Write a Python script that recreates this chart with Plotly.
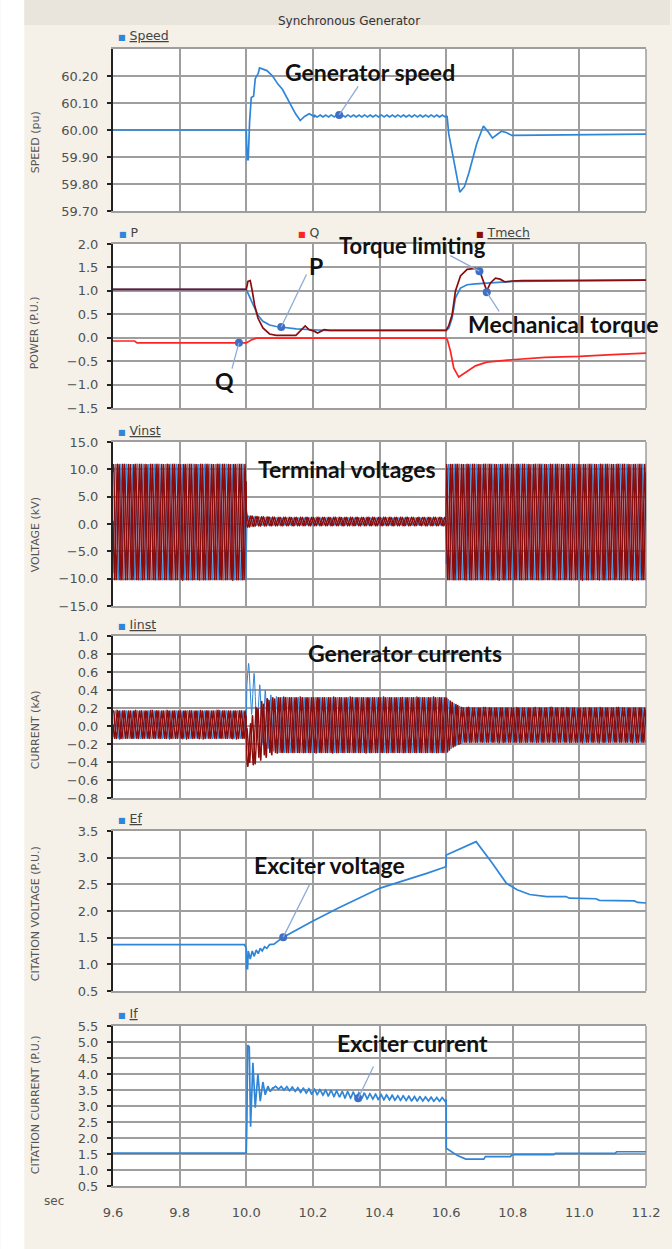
import numpy as np
import plotly.graph_objects as go

# ---------------- data ----------------
X_TICKS = [9.6, 9.8, 10.0, 10.2, 10.4, 10.6, 10.8, 11.0, 11.2]

# Speed (Hz) knots
SPEED_A_T = [9.6, 10.0, 10.001, 10.003, 10.006, 10.010, 10.015, 10.022, 10.027, 10.031, 10.036, 10.040, 10.050,
             10.062, 10.079, 10.095, 10.109, 10.122, 10.134, 10.148, 10.162, 10.175, 10.189, 10.204]
SPEED_A_V = [60.0, 60.0, 59.96, 59.89, 59.89, 60.03, 60.12, 60.125, 60.19, 60.20, 60.21, 60.23, 60.225,
             60.22, 60.20, 60.17, 60.15, 60.12, 60.09, 60.06, 60.035, 60.05, 60.06, 60.05]
SPEED_RIP_T = [10.204, 10.4, 10.6]
SPEED_RIP_MEAN = [60.052, 60.052, 60.052]
SPEED_RIP_AMP = [0.004, 0.004, 0.004]
SPEED_B_T = [10.6, 10.603, 10.608, 10.618, 10.628, 10.641, 10.655, 10.668, 10.692, 10.712, 10.725, 10.739,
             10.755, 10.767, 10.782, 10.797, 11.2]
SPEED_B_V = [60.052, 60.05, 59.985, 59.92, 59.85, 59.77, 59.79, 59.84, 59.95, 60.015, 59.995, 59.97,
             59.985, 59.996, 59.99, 59.98, 59.985]

# Power panel
P_T = [9.6, 10.0, 10.005, 10.02, 10.035, 10.05, 10.07, 10.09, 10.12, 10.15, 10.2, 10.24, 10.6, 10.608,
       10.618, 10.628, 10.643, 10.663, 10.688, 10.72, 10.76, 10.8, 11.2]
P_V = [1.03, 1.03, 0.95, 0.72, 0.48, 0.35, 0.27, 0.24, 0.21, 0.19, 0.17, 0.155, 0.155, 0.2,
       0.42, 0.85, 1.06, 1.13, 1.15, 1.16, 1.18, 1.2, 1.23]
Q_T = [9.6, 9.665, 9.672, 9.99, 10.0, 10.015, 10.03, 10.6, 10.604, 10.613, 10.623, 10.638, 10.658, 10.688,
       10.722, 10.797, 10.897, 11.0, 11.1, 11.2]
Q_V = [-0.07, -0.07, -0.11, -0.12, -0.11, -0.05, -0.01, -0.01, -0.05, -0.29, -0.65, -0.84, -0.75, -0.60,
       -0.52, -0.47, -0.42, -0.40, -0.36, -0.33]
TM_T = [9.6, 10.0, 10.005, 10.012, 10.018, 10.025, 10.035, 10.05, 10.07, 10.09, 10.149, 10.164, 10.177,
        10.189, 10.204, 10.214, 10.234, 10.25, 10.6, 10.608, 10.618, 10.628, 10.643, 10.663, 10.688, 10.703,
        10.722, 10.733, 10.748, 10.762, 10.777, 10.797, 10.827, 11.2]
TM_V = [1.03, 1.03, 1.2, 1.22, 1.0, 0.70, 0.42, 0.21, 0.08, 0.05, 0.05, 0.17, 0.25,
        0.17, 0.14, 0.10, 0.17, 0.155, 0.155, 0.26, 0.49, 1.0, 1.32, 1.46, 1.48, 1.38,
        1.0, 1.17, 1.27, 1.25, 1.19, 1.21, 1.22, 1.23]

# Instantaneous 60 Hz waveforms: envelopes
F_NET = 60.0
V_ENV_T = [9.6, 9.9995, 10.0005, 10.03, 10.1, 10.5995, 10.6005, 11.2]
V_AMP = [10.65, 10.65, 1.1, 0.85, 0.75, 0.75, 10.65, 10.65]
V_OFF = [0.35, 0.35, 0.5, 0.5, 0.45, 0.45, 0.35, 0.35]
I_ENV_T = [9.6, 10.0, 10.02, 10.05, 10.6, 10.62, 10.65, 11.2]
I_AMP = [0.157, 0.157, 0.29, 0.31, 0.31, 0.25, 0.195, 0.195]
I_OFF = [0.015, 0.015, 0.01, 0.01, 0.01, 0.01, 0.01, 0.01]
I_DC_T = [9.9995, 10.0, 10.007, 10.025, 10.04, 10.057, 10.07, 10.1]
I_DC = [[0.0, 0.5, 0.48, 0.265, 0.146, 0.08, 0.03, 0.0],
        [0.0, -0.3, -0.27, -0.12, -0.05, -0.02, 0.0, 0.0],
        [0.0, -0.2, -0.21, -0.145, -0.096, -0.06, -0.03, 0.0]]
PHASE_DEG = [0, -120, 120]
T_PEAK_A = 10.007

# Exciter voltage
EF_T = [9.6, 9.995, 10.0, 10.001, 10.004, 10.006, 10.012, 10.018, 10.024, 10.03, 10.036, 10.042, 10.048,
        10.055, 10.062, 10.07, 10.083, 10.111, 10.196, 10.275, 10.402, 10.48, 10.544, 10.5995, 10.6005,
        10.69, 10.736, 10.781, 10.813, 10.851, 10.902, 10.96, 10.97, 11.05, 11.06, 11.165, 11.175, 11.2]
EF_V = [1.37, 1.37, 1.30, 0.92, 0.92, 1.25, 1.10, 1.25, 1.15, 1.27, 1.20, 1.30, 1.25,
        1.33, 1.30, 1.37, 1.38, 1.51, 1.80, 2.05, 2.43, 2.58, 2.71, 2.83, 3.05,
        3.30, 2.92, 2.52, 2.40, 2.31, 2.27, 2.27, 2.24, 2.23, 2.20, 2.19, 2.16, 2.15]

# Exciter current
IF_A_T = [9.6, 10.0, 10.002, 10.004, 10.009, 10.013, 10.02, 10.027, 10.035, 10.042, 10.05, 10.057, 10.065,
          10.072, 10.08]
IF_A_V = [1.53, 1.53, 2.6, 4.9, 4.85, 2.35, 4.35, 2.95, 4.0, 3.15, 3.75, 3.35, 3.62, 3.45, 3.58]
IF_RIP_T = [10.08, 10.12, 10.2, 10.3, 10.4, 10.5, 10.6]
IF_RIP_MEAN = [3.58, 3.55, 3.45, 3.35, 3.28, 3.23, 3.2]
IF_RIP_AMP = [0.04, 0.06, 0.08, 0.1, 0.08, 0.07, 0.06]
IF_B_T = [10.6, 10.6005, 10.612, 10.634, 10.659, 10.713, 10.718, 10.793, 10.798, 10.923, 10.928, 11.107,
          11.112, 11.2]
IF_B_V = [3.2, 1.68, 1.6, 1.45, 1.34, 1.34, 1.42, 1.42, 1.48, 1.48, 1.52, 1.52, 1.57, 1.57]

# Callouts: (panel, label, label_t, label_v, dot_t, dot_v, line_t, line_v, font size)
CALLOUTS = [
    (1, "Generator speed", 10.370, 60.215, 10.279, 60.056, 10.339, 60.167, 23),
    (2, "Torque limiting", 10.500, 1.96, 10.700, 1.42, 10.608, 1.77, 22),
    (2, "Mechanical torque", 10.952, 0.293, 10.722, 0.97, 10.762, 0.53, 23),
    (2, "P", 10.209, 1.53, 10.105, 0.23, 10.183, 1.38, 23),
    (2, "Q", 9.935, -0.92, 9.978, -0.11, 9.956, -0.69, 23),
    (5, "Exciter voltage", 10.249, 2.86, 10.111, 1.51, 10.192, 2.52, 23),
    (6, "Exciter current", 10.500, 4.97, 10.336, 3.24, 10.384, 4.28, 23),
]
TEXT_ONLY = [(3, "Terminal voltages", 10.303, 10.06), (4, "Generator currents", 10.476, 0.81)]

Y_RANGES = [(59.7, 60.3), (-1.5, 2.0), (-15, 15), (-0.8, 1.0), (0.5, 3.5), (0.5, 5.5)]
Y_TICKS = [[59.7, 59.8, 59.9, 60.0, 60.1, 60.2],
           [-1.5, -1.0, -0.5, 0.0, 0.5, 1.0, 1.5, 2.0],
           [-15, -10, -5, 0, 5, 10, 15],
           [-0.8, -0.6, -0.4, -0.2, 0.0, 0.2, 0.4, 0.6, 0.8, 1.0],
           [0.5, 1.0, 1.5, 2.0, 2.5, 3.0, 3.5],
           [0.5, 1.0, 1.5, 2.0, 2.5, 3.0, 3.5, 4.0, 4.5, 5.0, 5.5]]
Y_FMT = [".2f", ".1f", ".1f", ".1f", ".1f", ".1f"]
Y_TITLES = ["SPEED (pu)", "POWER (P.U.)", "VOLTAGE (kV)", "CURRENT (kA)",
            "CITATION VOLTAGE (P.U.)", "CITATION CURRENT (P.U.)"]

# ---------------- geometry / style ----------------
W, H = 672, 1249
ML, MR, MT, MB = 113, 24, 49, 63
PW, PH = W - ML - MR, H - MT - MB
PANEL_PX = [(49, 211), (244, 408), (442, 606), (636, 798), (831, 991), (1026, 1186)]
YTITLE_PX = [142, 333, 535, 730, 914, 1105]
LEGEND_PX = [[("Speed", 116, 36, True)],
             [("P", 117, 233, False), ("Q", 297, 233, False), ("Tmech", 475, 233, True)],
             [("Vinst", 116, 431, True)], [("Iinst", 116, 624, True)],
             [("Ef", 116, 818, True)], [("If", 116, 1013, True)]]
BLUE = "#2f86d8"
RED = "#ff2424"
DRED = "#8b0c0c"
LEG_COL = {"Speed": BLUE, "P": BLUE, "Q": RED, "Tmech": DRED, "Vinst": BLUE, "Iinst": BLUE,
           "Ef": BLUE, "If": BLUE}
GRID = "#9e9e9e"
BEIGE = "#f5f0e8"


def px_x(p):
    return (p - ML) / PW


def px_y(p):
    return (H - MB - p) / PH


def with_ripple(a_t, a_v, r_t, r_mean, r_amp, b_t, b_v, step=0.001):
    t = np.arange(r_t[0], r_t[-1], step)
    r = np.interp(t, r_t, r_mean) + np.interp(t, r_t, r_amp) * np.sin(2 * np.pi * F_NET * t)
    return (np.concatenate([a_t, t, b_t]), np.concatenate([a_v, r, b_v]))


fig = go.Figure()

# Panel 1: speed
st, sv = with_ripple(SPEED_A_T, SPEED_A_V, SPEED_RIP_T, SPEED_RIP_MEAN, SPEED_RIP_AMP, SPEED_B_T, SPEED_B_V)
fig.add_trace(go.Scatter(x=st, y=sv, mode="lines", line=dict(color=BLUE, width=1.7), xaxis="x", yaxis="y"))

# Panel 2: power
fig.add_trace(go.Scatter(x=Q_T, y=Q_V, mode="lines", line=dict(color=RED, width=1.7), xaxis="x2", yaxis="y2"))
fig.add_trace(go.Scatter(x=P_T, y=P_V, mode="lines", line=dict(color=BLUE, width=1.7), xaxis="x2", yaxis="y2"))
fig.add_trace(go.Scatter(x=TM_T, y=TM_V, mode="lines", line=dict(color=DRED, width=1.7), xaxis="x2", yaxis="y2"))

# Panels 3,4: instantaneous three-phase waveforms
tw = np.arange(9.6, 11.2 + 1e-9, 0.0004)
wave_cols = [BLUE, DRED, DRED]
wave_w = [1.0, 1.4, 1.4]
for k in range(3):
    ang = 2 * np.pi * F_NET * (tw - T_PEAK_A) + np.radians(PHASE_DEG[k])
    v = np.interp(tw, V_ENV_T, V_OFF) + np.interp(tw, V_ENV_T, V_AMP) * np.cos(ang)
    fig.add_trace(go.Scatter(x=tw, y=v, mode="lines", line=dict(color=wave_cols[k], width=wave_w[k]),
                             xaxis="x3", yaxis="y3"))
for k in range(3):
    ang = 2 * np.pi * F_NET * (tw - T_PEAK_A) + np.radians(PHASE_DEG[k])
    i = (np.interp(tw, I_ENV_T, I_OFF) + np.interp(tw, I_ENV_T, I_AMP) * np.cos(ang)
         + np.interp(tw, I_DC_T, I_DC[k], left=0.0, right=0.0))
    fig.add_trace(go.Scatter(x=tw, y=i, mode="lines", line=dict(color=wave_cols[k], width=wave_w[k]),
                             xaxis="x4", yaxis="y4"))

# Panel 5: exciter voltage
fig.add_trace(go.Scatter(x=EF_T, y=EF_V, mode="lines", line=dict(color=BLUE, width=1.7), xaxis="x5", yaxis="y5"))

# Panel 6: exciter current
ft, fv = with_ripple(IF_A_T, IF_A_V, IF_RIP_T, IF_RIP_MEAN, IF_RIP_AMP, IF_B_T, IF_B_V)
fig.add_trace(go.Scatter(x=ft, y=fv, mode="lines", line=dict(color=BLUE, width=1.7), xaxis="x6", yaxis="y6"))

annotations = []
shapes = []

# Callout dots
for panel in range(1, 7):
    pts = [c for c in CALLOUTS if c[0] == panel]
    if pts:
        sfx = "" if panel == 1 else str(panel)
        fig.add_trace(go.Scatter(x=[c[4] for c in pts], y=[c[5] for c in pts], mode="markers",
                                 marker=dict(color="#3f6fc4", size=8), xaxis="x" + sfx, yaxis="y" + sfx,
                                 cliponaxis=False))


def label_font(size):
    return dict(family="Lato", size=size, color="#111111", weight="bold")


for (panel, label, lt, lv, dt_, dv, ct, cv, fs) in CALLOUTS:
    sfx = "" if panel == 1 else str(panel)
    annotations.append(dict(x=dt_, y=dv, xref="x" + sfx, yref="y" + sfx, ax=ct, ay=cv,
                            axref="x" + sfx, ayref="y" + sfx, text="", showarrow=True, arrowhead=0,
                            arrowwidth=1.3, arrowcolor="#8eaad6", standoff=0))
    annotations.append(dict(x=lt, y=lv, xref="x" + sfx, yref="y" + sfx, text=label, showarrow=False,
                            font=label_font(fs), xanchor="center", yanchor="middle"))
for (panel, label, lt, lv) in TEXT_ONLY:
    sfx = str(panel)
    annotations.append(dict(x=lt, y=lv, xref="x" + sfx, yref="y" + sfx, text=label, showarrow=False,
                            font=label_font(23), xanchor="center", yanchor="middle"))

layout = dict(width=W, height=H, autosize=False, margin=dict(l=ML, r=MR, t=MT, b=MB, pad=0),
              showlegend=False, paper_bgcolor=BEIGE, plot_bgcolor="white",
              font=dict(family="DejaVu Sans", color="#505050"))

for idx in range(6):
    n = idx + 1
    sfx = "" if n == 1 else str(n)
    top, bot = PANEL_PX[idx]
    layout["xaxis" + sfx] = dict(domain=[0, 1], anchor="y" + sfx, range=[9.6, 11.2], tickvals=X_TICKS,
                                 tickformat=".1f", showgrid=True, gridcolor=GRID, gridwidth=1.5,
                                 zeroline=False, showline=True, mirror=True, linecolor=GRID, linewidth=1.5,
                                 ticks="", showticklabels=(n == 6), ticklabelstandoff=14,
                                 tickfont=dict(size=13, color="#505050"))
    layout["yaxis" + sfx] = dict(domain=[px_y(bot), px_y(top)], anchor="x" + sfx, range=list(Y_RANGES[idx]),
                                 tickvals=Y_TICKS[idx], tickformat=Y_FMT[idx], showgrid=True, gridcolor=GRID,
                                 gridwidth=1.5, zeroline=False, showline=True, linecolor="#222222",
                                 linewidth=2, ticks="outside", ticklen=4, tickcolor="#222222", tickwidth=1.5,
                                 ticklabelstandoff=6, tickfont=dict(size=13, color="#505050"))
    # right border of the plot box
    shapes.append(dict(type="line", xref="x%s domain" % sfx, yref="y%s domain" % sfx, x0=1, x1=1, y0=0, y1=1,
                       line=dict(color=GRID, width=1.5), layer="below"))
    annotations.append(dict(x=px_x(35), y=px_y(YTITLE_PX[idx]), xref="paper", yref="paper",
                            text=Y_TITLES[idx], textangle=-90, showarrow=False,
                            font=dict(family="DejaVu Sans", size=11, color="#555555"),
                            xanchor="center", yanchor="middle"))
    for (name, lx, ly, underline) in LEGEND_PX[idx]:
        txt = "<span style='color:%s;font-size:8px'>■</span> %s" % (
            LEG_COL[name], "<u>%s</u>" % name if underline else name)
        annotations.append(dict(x=px_x(lx), y=px_y(ly), xref="paper", yref="paper", text=txt,
                                showarrow=False, xanchor="left", yanchor="middle",
                                font=dict(family="DejaVu Sans", size=12.5, color="#444444")))

# window chrome: white strip at left, title bar
shapes.append(dict(type="rect", xref="paper", yref="paper", x0=px_x(0), x1=px_x(24), y0=px_y(H), y1=px_y(0),
                   fillcolor="white", line=dict(width=0), layer="below"))
shapes.append(dict(type="rect", xref="paper", yref="paper", x0=px_x(24), x1=px_x(W), y0=px_y(25), y1=px_y(0),
                   fillcolor="#e9e4dc", line=dict(width=0), layer="below"))
annotations.append(dict(x=px_x(350), y=px_y(12), xref="paper", yref="paper", text="Synchronous Generator",
                        showarrow=False, font=dict(family="DejaVu Sans", size=12, color="#333333")))
annotations.append(dict(x=px_x(42), y=px_y(1210), xref="paper", yref="paper", text="sec",
                        showarrow=False, font=dict(family="DejaVu Sans", size=12, color="#555555")))

layout["annotations"] = annotations
layout["shapes"] = shapes
fig.update_layout(**layout)
fig.write_html("out.html", config={"displayModeBar": False},
               post_script="document.documentElement.style.overflow='hidden';"
                           "document.body.style.margin='0';document.body.style.overflow='hidden';")
